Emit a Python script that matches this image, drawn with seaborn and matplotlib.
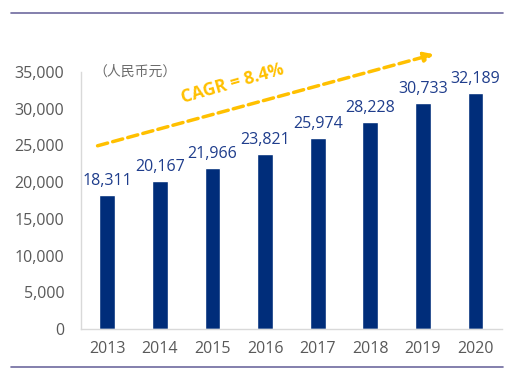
import pandas as pd
import numpy as np
import matplotlib.pyplot as plt
import seaborn as sns
from matplotlib.lines import Line2D

# data
years = ['2013', '2014', '2015', '2016', '2017', '2018', '2019', '2020']
income = [18311, 20167, 21966, 23821, 25974, 28228, 30733, 32189]
unit_label = '（人民币元）'
cagr_label = 'CAGR = 8.4%'

df = pd.DataFrame({'year': years, 'income': income})

sns.set_style('white')
plt.rcParams['font.family'] = ['Open Sans', 'Noto Sans CJK SC', 'DejaVu Sans']

fig = plt.figure(figsize=(5.11, 3.73), dpi=100)
ax = fig.add_axes([0.1585, 0.118, 0.8235, 0.689])

sns.barplot(data=df, x='year', y='income', color='#002D7A', width=0.3,
            saturation=1, ax=ax)

for i, v in enumerate(income):
    ax.text(i, v + 800, f'{v:,}', ha='center', va='bottom',
            fontsize=11.5, color='#1F3D8C')

ax.set_ylim(0, 35000)
ax.set_xlim(-0.5, 7.5)
ax.set_yticks(np.arange(0, 35001, 5000))
ax.yaxis.set_major_formatter(plt.FuncFormatter(lambda v, p: f'{int(v):,}'))
ax.tick_params(axis='both', length=0, labelsize=11.5, labelcolor='#595959')
ax.tick_params(axis='y', pad=12)
ax.tick_params(axis='x', pad=9)
ax.set_xlabel('')
ax.set_ylabel('')
for s in ['top', 'right']:
    ax.spines[s].set_visible(False)
for s in ['left', 'bottom']:
    ax.spines[s].set_color('#D9D9D9')
    ax.spines[s].set_linewidth(1)

# unit
ax.text(0.03, 1.0, unit_label, transform=ax.transAxes, fontsize=10,
        color='#6B6B6B', va='center', ha='left',
        family=['Noto Sans CJK SC', 'DejaVu Sans'])

# CAGR arrow
ax.annotate('', xy=(0.845, 1.072), xytext=(0.033, 0.71),
            xycoords='axes fraction', textcoords='axes fraction',
            arrowprops=dict(arrowstyle='-|>', color='#FFC000', lw=2.5,
                            linestyle=(0, (3, 1.5)), mutation_scale=14),
            annotation_clip=False)
ax.text(0.36, 0.955, cagr_label, transform=ax.transAxes, fontsize=12.5,
        fontweight='bold', color='#FFC000', rotation=16,
        ha='center', va='center')

# frame lines
fig.add_artist(Line2D([11 / 511, 503 / 511], [1 - 13 / 373, 1 - 13 / 373],
                      color='#6E6A9E', lw=1.2))
fig.add_artist(Line2D([11 / 511, 503 / 511], [1 - 367 / 373, 1 - 367 / 373],
                      color='#6E6A9E', lw=1.2))

fig.savefig('out.png', dpi=100)
